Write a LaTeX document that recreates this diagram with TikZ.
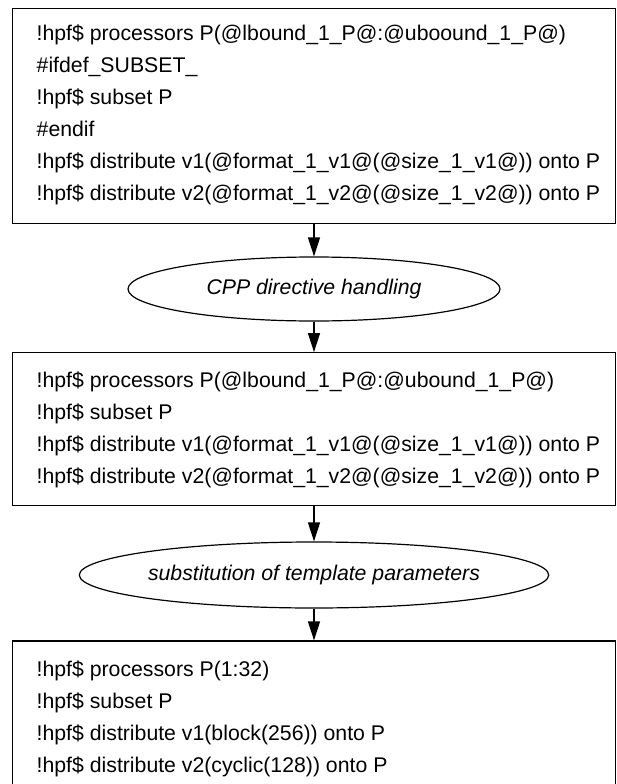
\documentclass[tikz,border=0pt]{standalone}
\usepackage{fontspec}
\setmainfont{Liberation Sans}
\usetikzlibrary{arrows.meta,shapes.geometric}
\begin{document}
\begin{tikzpicture}[x=1pt,y=-1pt,
  stepbox/.style={draw=black, line width=1.2pt, rectangle, minimum width=603pt, inner sep=0pt},
  codeline/.style={anchor=base west, inner sep=0pt, font=\fontsize{21.25pt}{26pt}\selectfont},
  proc/.style={draw=black, line width=1.2pt, ellipse, minimum width=372pt, minimum height=64pt, inner sep=0pt, font=\fontsize{21.25pt}{26pt}\selectfont\itshape},
  arr/.style={line width=1.2pt, -{Triangle[length=19pt,width=12pt]}}]
\clip (0,0) rectangle (617,784);

% box 1
\node[stepbox, minimum height=214.8pt] (b1) at (314,115.9) {};
\node[codeline] (l11) at (36.5,40.6) {!hpf\$ processors P(@lbound\_1\_P@:@uboound\_1\_P@)};
\node[codeline] (l12) at (36.5,72.6) {\#ifdef\_SUBSET\_};
\node[codeline] (l13) at (36.5,104.6) {!hpf\$ subset P};
\node[codeline] (l14) at (36.5,136.6) {\#endif};
\node[codeline] (l15) at (36.5,168.6) {!hpf\$ distribute v1(@format\_1\_v1@(@size\_1\_v1@)) onto P};
\node[codeline] (l16) at (36.5,200.6) {!hpf\$ distribute v2(@format\_1\_v2@(@size\_1\_v2@)) onto P};

% ellipse 1
\node[proc] (e1) at (314,289) {CPP directive handling};

% box 2
\node[stepbox, minimum height=152.8pt] (b2) at (314,429.1) {};
\node[codeline] (l21) at (36.5,387.6) {!hpf\$ processors P(@lbound\_1\_P@:@ubound\_1\_P@)};
\node[codeline] (l22) at (36.5,419.6) {!hpf\$ subset P};
\node[codeline] (l23) at (36.5,451.6) {!hpf\$ distribute v1(@format\_1\_v1@(@size\_1\_v1@)) onto P};
\node[codeline] (l24) at (36.5,483.6) {!hpf\$ distribute v2(@format\_1\_v2@(@size\_1\_v2@)) onto P};

% ellipse 2
\node[proc, minimum height=66pt] (e2) at (314,575) {substitution of template parameters};

% box 3
\node[stepbox, minimum height=152.8pt] (b3) at (314,717.4) {};
\node[codeline] (l31) at (36.5,676) {!hpf\$ processors P(1:32)};
\node[codeline] (l32) at (36.5,708) {!hpf\$ subset P};
\node[codeline] (l33) at (36.5,740) {!hpf\$ distribute v1(block(256)) onto P};
\node[codeline] (l34) at (36.5,772) {!hpf\$ distribute v2(cyclic(128)) onto P};

% connectors
\draw[arr] (b1.south) -- (e1.north);
\draw[arr] (e1.south) -- (b2.north);
\draw[arr] (b2.south) -- (e2.north);
\draw[arr] (e2.south) -- (b3.north);
\end{tikzpicture}
\end{document}
